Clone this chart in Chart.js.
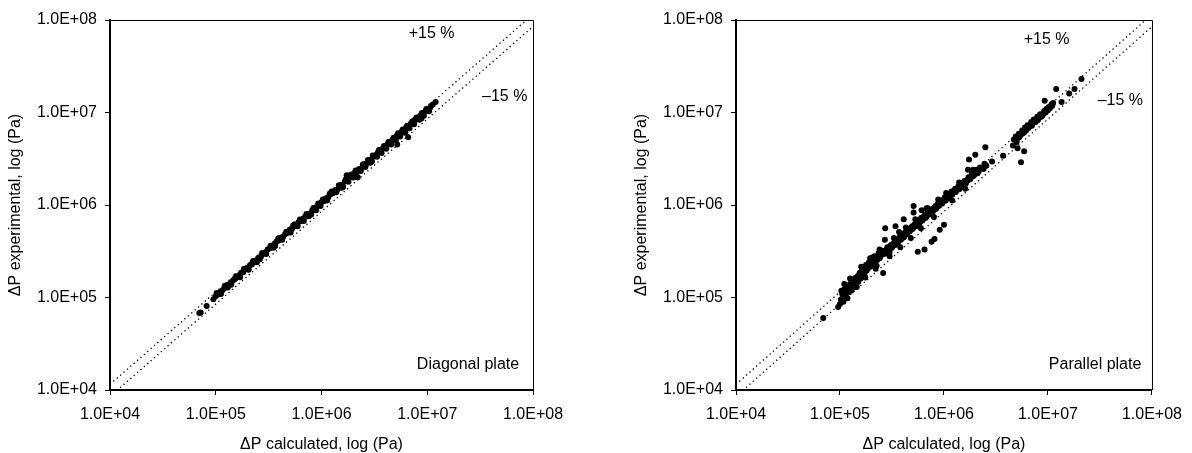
<!DOCTYPE html>
<html lang="en">

<head>
    <meta charset="UTF-8">
    <title>Pressure drop: experimental vs calculated</title>
    <script src="https://cdn.jsdelivr.net/npm/chart.js"></script>
    <style>
        body {
            margin: 0;
            background: #fff;
        }

        .pannello {
            position: absolute;
            top: 0;
            width: 596px;
            height: 453px;
        }
    </style>
</head>

<body>
    <div class="pannello" style="left: 0;"><canvas id="diagonale" width="596" height="453"></canvas></div>
    <div class="pannello" style="left: 596px;"><canvas id="parallela" width="596" height="453"></canvas></div>

    <script>
        // decadi degli assi logaritmici
        const tickValues = [1e4, 1e5, 1e6, 1e7, 1e8];
        const tickLabels = ['1.0E+04', '1.0E+05', '1.0E+06', '1.0E+07', '1.0E+08'];

        // fasce di errore +15 % / -15 %
        const bandFactors = [1.15, 0.85];

        // [deltaP calcolato, deltaP sperimentale] in Pa - piastra diagonale
        const diagonalPlate = [
            [7.0e4, 6.8e4], [7.2e4, 6.9e4], [8.2e4, 8.1e4],
            [9.5e4, 9.6e4], [1.00e5, 1.03e5], [1.05e5, 1.08e5], [1.10e5, 1.14e5], [1.15e5, 1.19e5],
            [1.20e5, 1.25e5], [1.26e5, 1.30e5], [1.30e5, 1.28e5], [1.32e5, 1.38e5], [1.38e5, 1.43e5],
            [1.45e5, 1.52e5], [1.52e5, 1.58e5], [1.60e5, 1.66e5], [1.68e5, 1.75e5], [1.75e5, 1.86e5],
            [1.82e5, 1.88e5], [1.90e5, 2.02e5], [2.00e5, 2.08e5], [2.10e5, 2.22e5], [2.20e5, 2.28e5],
            [2.30e5, 2.45e5], [2.42e5, 2.52e5], [2.55e5, 2.70e5], [2.60e5, 2.58e5], [2.68e5, 2.78e5],
            [2.80e5, 2.98e5], [2.95e5, 3.08e5], [3.10e5, 3.30e5], [3.25e5, 3.40e5], [3.40e5, 3.62e5],
            [3.50e5, 3.45e5], [3.58e5, 3.75e5], [3.75e5, 4.00e5], [3.95e5, 4.12e5], [4.00e5, 4.40e5],
            [4.15e5, 4.45e5], [4.35e5, 4.55e5], [4.55e5, 4.85e5], [4.80e5, 5.00e5], [5.00e5, 5.40e5],
            [5.25e5, 5.50e5], [5.50e5, 5.90e5], [5.60e5, 6.20e5], [5.80e5, 6.05e5], [6.10e5, 6.55e5],
            [6.40e5, 6.70e5], [6.70e5, 7.10e5], [7.00e5, 7.40e5], [7.40e5, 7.85e5], [7.80e5, 8.10e5],
            [8.00e5, 7.90e5], [8.20e5, 8.75e5], [8.60e5, 9.00e5], [9.00e5, 9.60e5], [9.50e5, 1.00e6],
            [1.00e6, 1.07e6], [1.05e6, 1.10e6], [1.10e6, 1.18e6], [1.16e6, 1.21e6], [1.20e6, 1.33e6],
            [1.22e6, 1.31e6], [1.28e6, 1.34e6], [1.35e6, 1.45e6], [1.42e6, 1.48e6], [1.50e6, 1.62e6],
            [1.58e6, 1.64e6], [1.60e6, 1.57e6], [1.66e6, 1.80e6], [1.73e6, 2.10e6], [1.75e6, 1.82e6],
            [1.85e6, 2.00e6], [1.95e6, 2.02e6], [2.05e6, 2.22e6], [2.15e6, 2.25e6], [2.20e6, 2.00e6],
            [2.27e6, 2.45e6], [2.40e6, 2.50e6], [2.52e6, 2.75e6], [2.65e6, 2.78e6], [2.80e6, 3.02e6],
            [2.95e6, 3.10e6], [3.00e6, 2.95e6], [3.10e6, 3.35e6], [3.25e6, 3.40e6], [3.42e6, 3.72e6],
            [3.60e6, 3.78e6], [3.80e6, 4.10e6], [4.00e6, 4.18e6], [4.20e6, 4.55e6], [4.40e6, 4.60e6],
            [4.65e6, 5.00e6], [4.90e6, 5.10e6], [5.15e6, 5.60e6], [5.20e6, 4.50e6], [5.40e6, 5.65e6],
            [5.70e6, 6.15e6], [6.00e6, 6.25e6], [6.20e6, 6.10e6], [6.30e6, 6.85e6], [6.60e6, 5.40e6],
            [6.65e6, 6.95e6], [7.00e6, 7.60e6], [7.40e6, 7.70e6], [7.60e6, 8.30e6], [7.80e6, 8.40e6],
            [8.20e6, 8.60e6], [8.60e6, 9.30e6], [8.80e6, 8.60e6], [9.10e6, 9.50e6], [9.60e6, 1.04e7],
            [1.01e7, 1.05e7], [1.06e7, 1.12e7], [1.13e7, 1.22e7],
            [1.02e5, 1.12e5], [1.12e5, 1.09e5], [1.22e5, 1.34e5], [1.40e5, 1.37e5], [1.55e5, 1.70e5],
            [1.70e5, 1.66e5], [1.85e5, 2.05e5], [2.05e5, 2.00e5], [2.25e5, 2.48e5], [2.45e5, 2.40e5],
            [2.75e5, 3.02e5], [3.00e5, 2.95e5], [3.30e5, 3.62e5], [3.65e5, 3.60e5], [3.90e5, 4.35e5],
            [4.25e5, 4.20e5], [4.65e5, 5.15e5], [5.10e5, 5.05e5], [5.40e5, 6.00e5], [5.95e5, 5.90e5],
            [6.25e5, 6.95e5], [6.80e5, 6.70e5], [7.20e5, 8.00e5], [7.60e5, 7.55e5], [8.40e5, 9.30e5],
            [8.90e5, 8.80e5], [9.30e5, 1.04e6], [9.80e5, 9.75e5], [1.03e6, 1.15e6], [1.13e6, 1.12e6],
            [1.25e6, 1.40e6], [1.38e6, 1.37e6], [1.46e6, 1.63e6], [1.55e6, 1.54e6], [1.70e6, 1.90e6],
            [1.80e6, 1.78e6], [1.90e6, 2.14e6], [2.00e6, 1.98e6], [2.10e6, 2.36e6], [2.35e6, 2.33e6],
            [2.46e6, 2.74e6], [2.60e6, 2.58e6], [2.75e6, 3.07e6], [2.90e6, 2.87e6], [3.05e6, 3.42e6],
            [3.35e6, 3.32e6], [3.50e6, 3.92e6], [3.70e6, 3.66e6], [3.90e6, 4.35e6], [4.10e6, 4.05e6],
            [4.30e6, 4.80e6], [4.55e6, 4.50e6], [4.80e6, 5.35e6], [5.05e6, 5.00e6], [5.30e6, 5.95e6],
            [5.55e6, 5.50e6], [5.85e6, 6.55e6], [6.10e6, 6.05e6], [6.45e6, 7.20e6], [6.80e6, 6.75e6],
            [7.20e6, 8.00e6], [7.50e6, 7.45e6], [7.90e6, 8.85e6], [8.40e6, 8.35e6], [8.90e6, 9.90e6],
            [9.30e6, 9.25e6], [9.80e6, 1.09e7], [1.04e7, 1.03e7], [1.09e7, 1.18e7], [1.20e7, 1.30e7]
        ];

        // [deltaP calcolato, deltaP sperimentale] in Pa - piastra parallela
        const parallelPlate = [
            [6.9e4, 6.0e4], [9.6e4, 7.9e4], [1.00e5, 8.5e4], [1.02e5, 9.5e4], [1.05e5, 1.10e5],
            [1.08e5, 9.0e4], [1.10e5, 1.22e5], [1.12e5, 1.05e5], [1.15e5, 1.30e5], [1.18e5, 9.8e4],
            [1.20e5, 1.15e5], [1.25e5, 1.40e5], [1.28e5, 1.18e5], [1.32e5, 1.50e5], [1.35e5, 1.28e5],
            [1.40e5, 1.62e5], [1.42e5, 1.40e5], [1.48e5, 1.70e5], [1.50e5, 1.48e5], [1.55e5, 1.85e5],
            [1.58e5, 1.60e5], [1.62e5, 1.95e5], [1.65e5, 1.72e5], [1.70e5, 2.10e5], [1.72e5, 1.80e5],
            [1.78e5, 2.25e5], [1.80e5, 1.95e5], [1.85e5, 2.05e5], [1.90e5, 2.40e5], [1.95e5, 2.15e5],
            [2.00e5, 2.60e5], [2.02e5, 2.25e5], [2.10e5, 2.45e5], [2.15e5, 2.80e5], [2.20e5, 2.50e5],
            [2.25e5, 2.20e5], [2.30e5, 2.75e5], [2.35e5, 3.00e5], [2.40e5, 2.65e5], [2.50e5, 2.90e5],
            [2.55e5, 3.20e5], [2.60e5, 1.84e5], [2.65e5, 2.95e5], [2.70e5, 4.20e5], [2.72e5, 5.60e5],
            [2.80e5, 3.25e5], [2.90e5, 3.40e5], [3.00e5, 3.10e5], [3.05e5, 3.60e5], [3.15e5, 3.45e5],
            [3.25e5, 3.80e5], [3.42e5, 5.90e5], [3.40e5, 3.70e5], [3.50e5, 4.05e5], [3.60e5, 3.90e5],
            [3.70e5, 4.40e5], [3.70e5, 5.10e5], [3.85e5, 4.20e5], [3.95e5, 4.60e5], [4.10e5, 4.45e5],
            [4.20e5, 5.00e5], [4.35e5, 4.80e5], [4.50e5, 5.30e5], [4.10e5, 7.00e5], [4.70e5, 5.20e5],
            [4.85e5, 5.70e5], [5.00e5, 5.50e5], [5.10e5, 8.30e5], [5.20e5, 6.10e5], [5.40e5, 5.90e5],
            [5.55e5, 6.50e5], [5.60e5, 3.13e5], [5.80e5, 6.30e5], [6.00e5, 7.00e5], [6.50e5, 3.30e5],
            [6.20e5, 6.80e5], [6.40e5, 7.50e5], [6.70e5, 7.30e5], [6.90e5, 8.10e5], [7.20e5, 7.90e5],
            [7.60e5, 4.00e5], [8.10e5, 4.30e5], [7.50e5, 8.70e5], [7.80e5, 8.50e5], [8.10e5, 9.40e5],
            [8.40e5, 9.10e5], [8.70e5, 1.01e6], [9.00e5, 9.80e5], [9.30e5, 1.08e6], [9.60e5, 1.04e6],
            [1.00e6, 1.16e6], [1.04e6, 1.12e6], [1.08e6, 1.24e6], [1.12e6, 1.20e6], [1.16e6, 1.33e6],
            [1.20e6, 1.29e6], [1.25e6, 1.42e6], [1.30e6, 1.38e6], [1.35e6, 1.52e6], [1.40e6, 1.48e6],
            [1.45e6, 1.62e6], [1.50e6, 1.58e6], [1.56e6, 1.72e6], [1.70e6, 2.40e6], [1.62e6, 1.70e6],
            [1.70e6, 1.85e6], [1.74e6, 3.10e6], [1.80e6, 1.95e6], [1.90e6, 2.05e6], [2.00e6, 3.50e6],
            [2.00e6, 2.20e6], [2.15e6, 2.30e6], [2.30e6, 2.50e6], [2.50e6, 4.20e6], [2.50e6, 2.70e6],
            [2.90e6, 2.95e6], [3.70e6, 3.40e6], [4.60e6, 4.40e6], [5.00e6, 4.80e6], [5.10e6, 4.10e6],
            [5.50e6, 2.90e6], [5.90e6, 3.80e6], [5.30e6, 5.40e6], [5.60e6, 5.90e6], [5.90e6, 6.10e6],
            [6.20e6, 6.60e6], [6.50e6, 6.80e6], [6.80e6, 7.30e6], [7.10e6, 7.50e6], [7.40e6, 8.00e6],
            [7.80e6, 8.20e6], [8.20e6, 8.70e6], [8.60e6, 9.00e6], [9.00e6, 9.60e6], [9.30e6, 1.34e7],
            [9.50e6, 1.00e7], [1.00e7, 1.06e7], [1.05e7, 1.12e7], [1.10e7, 1.18e7], [1.20e7, 1.80e7],
            [1.35e7, 1.30e7], [1.60e7, 1.60e7], [1.80e7, 1.80e7], [2.10e7, 2.30e7],
            [1.03e5, 1.18e5], [1.07e5, 1.00e5], [1.13e5, 1.25e5], [1.17e5, 1.12e5], [1.22e5, 1.32e5],
            [1.30e5, 1.45e5], [1.37e5, 1.55e5], [1.45e5, 1.58e5], [1.52e5, 1.75e5], [1.60e5, 1.80e5],
            [1.68e5, 1.90e5], [1.75e5, 2.00e5], [1.82e5, 2.15e5], [1.88e5, 2.30e5], [1.98e5, 2.35e5],
            [2.05e5, 2.70e5], [2.12e5, 2.35e5], [2.18e5, 2.65e5], [2.28e5, 2.55e5], [2.38e5, 2.90e5],
            [2.45e5, 2.80e5], [2.52e5, 3.05e5], [2.62e5, 3.10e5], [2.75e5, 3.00e5], [2.85e5, 3.50e5],
            [2.95e5, 3.30e5], [3.10e5, 3.70e5], [3.20e5, 3.55e5], [3.35e5, 3.95e5], [3.45e5, 3.85e5],
            [3.55e5, 4.20e5], [3.65e5, 4.05e5], [3.78e5, 4.60e5], [3.90e5, 4.35e5], [4.05e5, 4.75e5],
            [4.15e5, 4.60e5], [4.30e5, 5.10e5], [4.45e5, 4.95e5], [4.55e5, 5.50e5], [4.75e5, 5.40e5],
            [4.95e5, 5.90e5], [5.05e5, 5.70e5], [5.30e5, 6.30e5], [5.50e5, 6.10e5], [5.65e5, 6.80e5],
            [5.90e5, 6.60e5], [6.05e5, 7.30e5], [6.30e5, 7.00e5], [6.55e5, 7.80e5], [6.80e5, 7.60e5],
            [7.05e5, 8.40e5], [7.35e5, 8.20e5], [7.70e5, 9.00e5], [7.95e5, 8.80e5], [8.25e5, 9.70e5],
            [8.55e5, 9.50e5], [8.85e5, 1.05e6], [9.15e5, 1.02e6], [9.45e5, 1.12e6], [9.80e5, 1.09e6],
            [1.02e6, 1.21e6], [1.06e6, 1.17e6], [1.10e6, 1.30e6], [1.14e6, 1.26e6], [1.18e6, 1.40e6],
            [1.23e6, 1.36e6], [1.28e6, 1.50e6], [1.33e6, 1.46e6], [1.38e6, 1.60e6], [1.43e6, 1.56e6],
            [1.48e6, 1.72e6], [1.53e6, 1.66e6], [1.58e6, 1.82e6], [1.65e6, 1.80e6], [1.72e6, 2.00e6],
            [1.78e6, 1.90e6], [1.85e6, 2.15e6], [1.95e6, 2.10e6], [2.05e6, 2.40e6], [2.10e6, 2.20e6],
            [2.22e6, 2.55e6], [2.40e6, 2.45e6], [2.45e6, 2.80e6], [2.55e6, 2.65e6],
            [5.10e5, 9.75e5], [6.10e5, 8.80e5], [6.80e5, 9.20e5], [9.10e5, 5.40e5], [1.00e6, 6.10e5],
            [4.70e6, 5.10e6], [4.90e6, 5.50e6], [5.10e6, 5.30e6], [5.25e6, 5.90e6], [5.45e6, 5.70e6],
            [5.65e6, 6.40e6], [5.80e6, 6.00e6], [6.00e6, 6.90e6], [6.15e6, 6.40e6], [6.35e6, 7.30e6],
            [6.60e6, 7.00e6], [6.90e6, 7.90e6], [7.00e6, 7.20e6], [7.30e6, 8.40e6], [7.60e6, 7.90e6],
            [7.90e6, 9.00e6], [8.00e6, 8.30e6], [8.40e6, 9.60e6], [8.80e6, 9.20e6], [9.20e6, 1.04e7],
            [9.70e6, 1.10e7], [1.02e7, 1.15e7], [1.08e7, 1.22e7], [1.12e7, 1.27e7],
            [1.10e5, 1.40e5], [1.25e5, 1.60e5], [1.45e5, 1.30e5], [1.60e5, 2.15e5], [1.75e5, 1.65e5],
            [1.95e5, 2.65e5], [2.20e5, 2.05e5], [2.40e5, 3.30e5], [3.00e5, 2.80e5], [3.30e5, 4.40e5],
            [3.80e5, 3.50e5], [4.30e5, 5.70e5], [4.80e5, 4.40e5], [5.30e5, 7.00e5], [6.00e5, 5.60e5],
            [7.00e5, 9.20e5], [8.00e5, 7.40e5], [8.80e5, 1.15e6], [1.05e6, 1.35e6], [1.20e6, 1.12e6],
            [1.40e6, 1.75e6], [1.60e6, 1.50e6], [1.90e6, 2.40e6]
        ];

        const fontFamily = '"Liberation Sans", Arial, sans-serif';
        Chart.defaults.font.family = fontFamily;
        Chart.defaults.font.size = 16;
        Chart.defaults.color = '#000';

        // cornice sottile (lato alto e destro) + scritte dentro al grafico
        const notePlugin = {
            id: 'plotNotes',
            afterDatasetsDraw(chart, args, opts) {
                const { ctx, chartArea: a, scales } = chart;
                ctx.save();
                ctx.strokeStyle = '#000';
                ctx.lineWidth = 1;
                ctx.beginPath();
                ctx.moveTo(a.left, a.top + 0.5);
                ctx.lineTo(a.right + 0.5, a.top + 0.5);
                ctx.lineTo(a.right + 0.5, a.bottom);
                ctx.stroke();

                ctx.fillStyle = '#000';
                ctx.font = '16px ' + fontFamily;
                ctx.textBaseline = 'middle';
                (opts.notes || []).forEach(n => {
                    ctx.textAlign = n.align;
                    ctx.fillText(n.text, scales.x.getPixelForValue(n.x), scales.y.getPixelForValue(n.y));
                });
                ctx.restore();
            }
        };

        function asseLog(title, fitSize, titlePad, horizontal) {
            return {
                type: 'logarithmic',
                min: tickValues[0],
                max: tickValues[tickValues.length - 1],
                afterBuildTicks: scale => {
                    scale.ticks = tickValues.map(v => ({ value: v }));
                },
                afterFit: scale => {
                    if (horizontal) scale.height = fitSize;
                    else scale.width = fitSize;
                },
                ticks: {
                    padding: horizontal ? 10 : 8,
                    autoSkip: false,
                    maxRotation: 0,
                    callback: value => tickLabels[tickValues.indexOf(value)]
                },
                grid: {
                    display: true,
                    drawOnChartArea: false,
                    drawTicks: true,
                    tickLength: 5,
                    color: '#000',
                    lineWidth: 1
                },
                border: { display: true, color: '#000', width: 2 },
                title: {
                    display: true,
                    text: title,
                    font: { size: 16, lineHeight: 1 },
                    padding: { top: titlePad, bottom: horizontal ? titlePad : 0 }
                }
            };
        }

        function creaGrafico(id, points, yWidth, padRight, yTitlePad, notes) {
            const bandLines = bandFactors.map(f => ({
                type: 'line',
                data: [{ x: tickValues[0], y: tickValues[0] * f }, { x: tickValues[4], y: tickValues[4] * f }],
                borderColor: '#000',
                borderWidth: 1.3,
                borderDash: [1.3, 3.2],
                pointRadius: 0,
                fill: false
            }));

            return new Chart(document.getElementById(id), {
                type: 'scatter',
                data: {
                    datasets: [{
                        data: points.map(p => ({ x: p[0], y: p[1] })),
                        backgroundColor: '#000',
                        borderWidth: 0,
                        pointRadius: 3
                    }, ...bandLines]
                },
                options: {
                    responsive: false,
                    animation: false,
                    devicePixelRatio: 1,
                    layout: { padding: { top: 20, right: padRight, bottom: 0, left: 0 } },
                    plugins: {
                        legend: { display: false },
                        tooltip: { enabled: false },
                        plotNotes: { notes: notes }
                    },
                    scales: {
                        x: asseLog('\u0394P calculated, log (Pa)', 63, 0, true),
                        y: asseLog('\u0394P experimental, log (Pa)', yWidth, yTitlePad, false)
                    }
                },
                plugins: [notePlugin]
            });
        }

        creaGrafico('diagonale', diagonalPlate, 110, 63, 8, [
            { text: '+15 %', x: 1.1e7, y: 7.1e7, align: 'center' },
            { text: '\u201315 %', x: 5.4e7, y: 1.48e7, align: 'center' },
            { text: 'Diagonal plate', x: 7.4e7, y: 1.89e4, align: 'right' }
        ]);

        creaGrafico('parallela', parallelPlate, 140, 32, 38, [
            { text: '+15 %', x: 9.7e6, y: 6.2e7, align: 'center' },
            { text: '\u201315 %', x: 4.97e7, y: 1.34e7, align: 'center' },
            { text: 'Parallel plate', x: 7.9e7, y: 1.89e4, align: 'right' }
        ]);
    </script>
</body>

</html>
